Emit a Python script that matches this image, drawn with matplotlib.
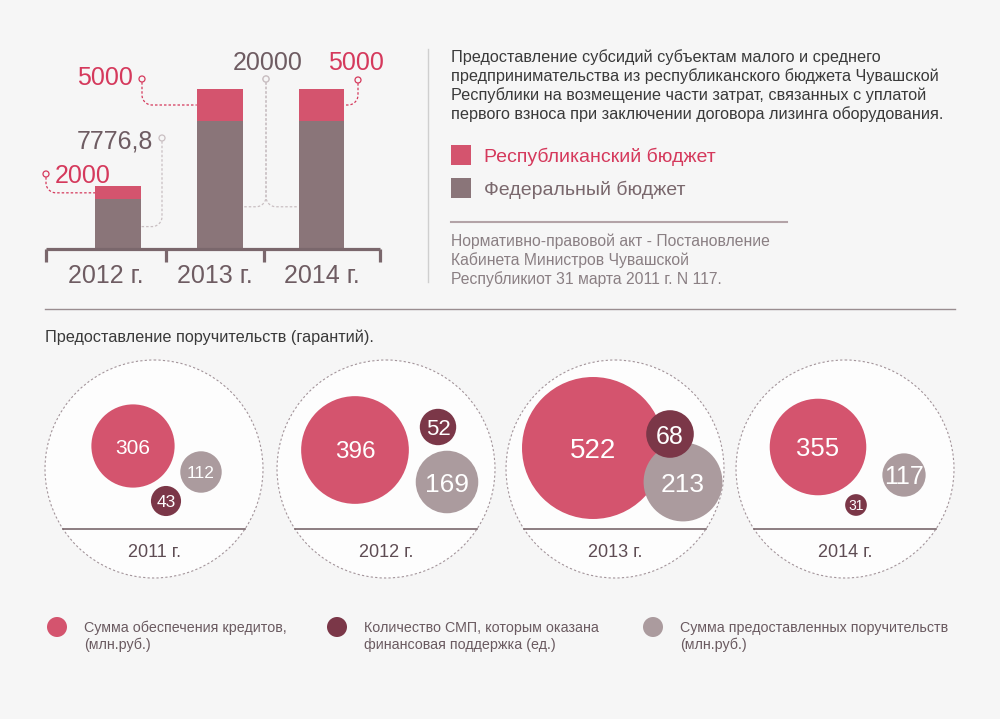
import numpy as np
import matplotlib
matplotlib.use('Agg')
import matplotlib.pyplot as plt
from matplotlib.patches import Circle, Rectangle

plt.rcParams['font.family'] = ['Liberation Sans', 'DejaVu Sans']

# --- data ---------------------------------------------------------------
bar_years = ['2012 г.', '2013 г.', '2014 г.']
republic = [2000, 5000, 5000]
federal = [7776.8, 20000, 20000]

bubble_years = ['2011 г.', '2012 г.', '2013 г.', '2014 г.']
loans = [306, 396, 522, 355]        # сумма обеспечения кредитов
smp_count = [43, 52, 68, 31]        # количество СМП
guarantees = [112, 169, 213, 117]   # сумма поручительств

intro_lines = [
    'Предоставление субсидий субъектам малого и среднего',
    'предпринимательства из республиканского бюджета Чувашской',
    'Республики на возмещение части затрат, связанных с уплатой',
    'первого взноса при заключении договора лизинга оборудования.',
]
note_lines = [
    'Нормативно-правовой акт - Постановление',
    'Кабинета Министров Чувашской',
    'Республикиот 31 марта 2011 г. N 117.',
]
bar_legend = ['Республиканский бюджет', 'Федеральный бюджет']
bubble_title = 'Предоставление поручительств (гарантий).'
bubble_legend = [
    ['Сумма обеспечения кредитов,', '(млн.руб.)'],
    ['Количество СМП, которым оказана', 'финансовая поддержка (ед.)'],
    ['Сумма предоставленных поручительств', '(млн.руб.)'],
]

# --- style --------------------------------------------------------------
BG = '#f6f6f6'
RED = '#d4546e'
RED_TEXT = '#d5395c'
FED = '#8a7579'
DARK = '#7b3748'
LIGHT = '#ab9b9e'
GREY_TEXT = '#6e5c62'
AXIS = '#7a676c'

# bubble layout: offsets from ring centre (px) and label sizes
RING_X = [154, 386, 615, 845]
RING_Y = 469
RING_R = 109
off_loans = [(-21, -23), (-31, -19), (-22, -21), (-27, -22)]
off_smp = [(12, 32), (52, -42), (55, -35), (11, 36)]
off_guar = [(47, 3), (61, 13), (68, 13), (59, 6)]
fs_loans = [15, 17.5, 20, 18.5]
fs_smp = [12.5, 16, 18, 10]
fs_guar = [12.5, 19, 19, 18]
K_LOANS, K_SMP, K_GUAR = 0.136, 0.35, 0.185


def fmt(v):
    return f'{v:g}'.replace('.', ',')


fig = plt.figure(figsize=(10, 7.19), dpi=100, facecolor=BG)
ax = fig.add_axes([0, 0, 1, 1])
ax.set_xlim(0, 1000)
ax.set_ylim(719, 0)
ax.axis('off')

# --- stacked bars -------------------------------------------------------
BASE_Y, TOP_Y = 249, 89
total = np.array(republic) + np.array(federal)
ymax = total.max() * 200 / (BASE_Y - TOP_Y)
ax_bar = fig.add_axes([46 / 1000, 1 - BASE_Y / 719, 334 / 1000, 200 / 719])
ax_bar.set_xlim(-0.708, 2.575)
ax_bar.set_ylim(0, ymax)
ax_bar.axis('off')
ax_bar.patch.set_alpha(0)

x = np.arange(len(bar_years))
w = 0.452
ax_bar.bar(x, federal, width=w, color=FED)
ax_bar.bar(x, republic, bottom=federal, width=w, color=RED)

xt = ax_bar.get_xaxis_transform()
ax_bar.plot([-0.708, 2.575], [0, 0], color=AXIS, lw=2.3, clip_on=False,
            solid_capstyle='butt')
seps = [-0.708, 0.47, 1.43, 2.575]
for s in seps:
    ax_bar.plot([s, s], [0, -0.065], transform=xt, color=AXIS, lw=2.3,
                clip_on=False, solid_capstyle='butt')
for i, lab in enumerate(bar_years):
    mid = (seps[i] + seps[i + 1]) / 2
    ax_bar.text(mid, -34 / 200, lab, transform=xt, ha='center', va='baseline',
                fontsize=18, color=GREY_TEXT)


def to_px(xd, yd):
    return ax.transData.inverted().transform(ax_bar.transData.transform((xd, yd)))


def leader(mx, my, anchor, color, r=10):
    axp, ayp = anchor
    dx = axp - mx
    s = np.sign(dx)
    r = min(r, abs(dx))
    t = np.linspace(0, np.pi / 2, 20)
    cx, cy = mx + s * r, ayp - r
    xs = np.concatenate([[mx], cx - s * r * np.cos(t), [axp]])
    ys = np.concatenate([[my + 3.2], cy + r * np.sin(t), [ayp]])
    ax.plot(xs, ys, color=color, lw=0.9, ls=(0, (2, 1.6)))
    ax.add_patch(Circle((mx, my), 3, fc=BG, ec=color, lw=0.9, zorder=5))


LEAD_GREY = '#c9bfc2'
# 2012
leader(46, 174, to_px(-w / 2, federal[0] + republic[0] / 2), RED_TEXT)
ax.text(55, 183, fmt(republic[0]), fontsize=18, color=RED_TEXT, va='baseline')
leader(162, 138, to_px(0.03, federal[0] * 0.45), LEAD_GREY)
ax.text(153, 148, fmt(federal[0]), fontsize=18, color=GREY_TEXT, ha='right',
        va='baseline')
# 2013
leader(142, 79, to_px(1 - w / 2, federal[1] + republic[1] / 2), RED_TEXT)
ax.text(133, 85, fmt(republic[1]), fontsize=18, color=RED_TEXT, ha='right',
        va='baseline')
# federal 2013/2014 shared label
leader(266, 79, to_px(1 + w / 2, federal[1] * 0.33), LEAD_GREY)
leader(266, 79, to_px(2 - w / 2, federal[2] * 0.33), LEAD_GREY)
ax.text(268, 70, fmt(federal[1]), fontsize=18, color=GREY_TEXT, ha='center',
        va='baseline')
# 2014
leader(358, 80, to_px(2 + w / 2, federal[2] + republic[2] / 2), RED_TEXT)
ax.text(356, 70, fmt(republic[2]), fontsize=18, color=RED_TEXT, ha='center',
        va='baseline')

# --- right text block ---------------------------------------------------
ax.plot([428, 428], [49, 282], color='#cfcfcf', lw=1)
for i, line in enumerate(intro_lines):
    ax.text(451, 62 + i * 19, line, fontsize=11.7, color='#3a3a3a', va='baseline')
for i, (lab, col, tcol) in enumerate(zip(bar_legend, [RED, FED], [RED_TEXT, '#7a686d'])):
    y0 = 145 + i * 33
    ax.add_patch(Rectangle((451, y0), 20, 20, color=col, lw=0))
    ax.text(484, y0 + 17, lab, fontsize=14, color=tcol, va='baseline')
ax.plot([451, 787], [222, 222], color='#b3a3a7', lw=1.5)
for i, line in enumerate(note_lines):
    ax.text(451, 246 + i * 19, line, fontsize=11.3, color='#8a7f83', va='baseline')

ax.plot([45, 955], [309, 309], color='#9a8d90', lw=1)

# --- bubbles ------------------------------------------------------------
ax.text(45, 342, bubble_title, fontsize=11.7, color='#3a3a3a', va='baseline')
chord_dy = 60
half = np.sqrt(RING_R ** 2 - chord_dy ** 2)
for i, cx in enumerate(RING_X):
    ax.add_patch(Circle((cx, RING_Y), RING_R, fc='#fdfdfd', ec='#a3949a',
                        lw=0.8, ls=(0, (2, 2))))
    ax.plot([cx - half, cx + half], [RING_Y + chord_dy] * 2, color=AXIS, lw=1.2)
    ax.text(cx, 557, bubble_years[i], fontsize=13, color='#5e4c53',
            ha='center', va='baseline')
    series = [
        (loans[i], K_LOANS, off_loans[i], RED, fs_loans[i], 3),
        (guarantees[i], K_GUAR, off_guar[i], LIGHT, fs_guar[i], 4),
        (smp_count[i], K_SMP, off_smp[i], DARK, fs_smp[i], 5),
    ]
    for v, k, (ox, oy), col, fs, z in series:
        ax.add_patch(Circle((cx + ox, RING_Y + oy), v * k, fc=col, ec='none',
                            zorder=z))
        ax.text(cx + ox, RING_Y + oy, str(v), fontsize=fs, color='white',
                ha='center', va='center_baseline', zorder=z)

# --- bubble legend ------------------------------------------------------
for lx, col, lines in zip([57, 337, 653], [RED, DARK, LIGHT], bubble_legend):
    ax.add_patch(Circle((lx, 627), 10, fc=col, ec='none'))
    for j, line in enumerate(lines):
        ax.text(lx + 27, 632 + j * 17.5, line, fontsize=10.3, color='#6a5a60',
                va='baseline')

fig.savefig('out.png', dpi=100, facecolor=BG)
